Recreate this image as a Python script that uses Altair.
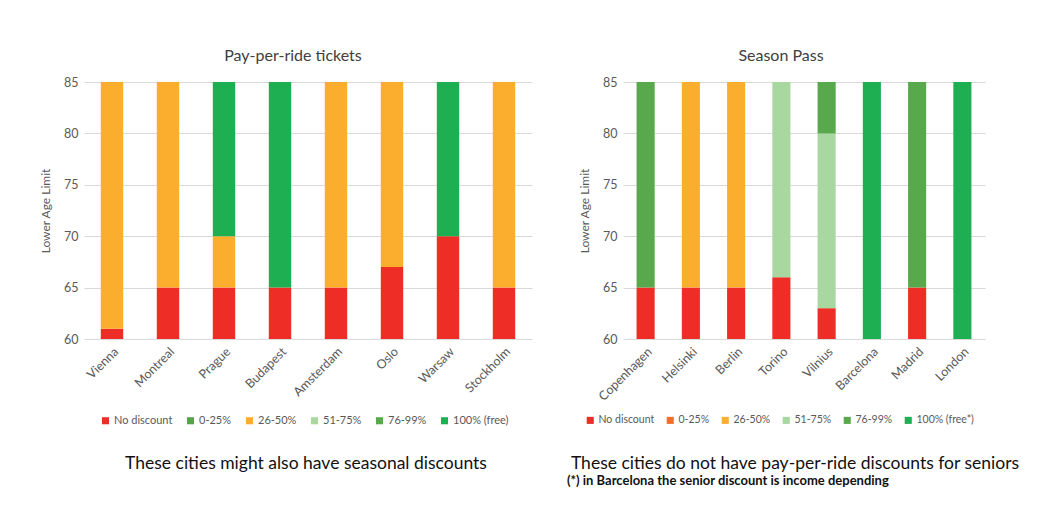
import altair as alt
import pandas as pd

FONT = "Lato"

categories_left = ["No discount", "0-25%", "26-50%", "51-75%", "76-99%", "100% (free)"]
categories_right = ["No discount", "0-25%", "26-50%", "51-75%", "76-99%", "100% (free*)"]
colors_left = ["#ED2D26", "#54A548", "#FBAD2E", "#A9D7A0", "#58A84C", "#1EAF53"]
colors_right = ["#ED2D26", "#F26E2B", "#FBAD2E", "#A9D7A0", "#58A84C", "#1EAF53"]

# Pay-per-ride tickets
left_cities = ["Vienna", "Montreal", "Prague", "Budapest", "Amsterdam", "Oslo", "Warsaw", "Stockholm"]
left_seg_city = ["Vienna", "Vienna", "Montreal", "Montreal", "Prague", "Prague", "Prague",
                 "Budapest", "Budapest", "Amsterdam", "Amsterdam", "Oslo", "Oslo",
                 "Warsaw", "Warsaw", "Stockholm", "Stockholm"]
left_seg_cat = ["No discount", "26-50%", "No discount", "26-50%", "No discount", "26-50%", "100% (free)",
                "No discount", "100% (free)", "No discount", "26-50%", "No discount", "26-50%",
                "No discount", "100% (free)", "No discount", "26-50%"]
left_seg_from = [60, 61, 60, 65, 60, 65, 70, 60, 65, 60, 65, 60, 67, 60, 70, 60, 65]
left_seg_to = [61, 85, 65, 85, 65, 70, 85, 65, 85, 65, 85, 67, 85, 70, 85, 65, 85]

# Season Pass
right_cities = ["Copenhagen", "Helsinki", "Berlin", "Torino", "Vilnius", "Barcelona", "Madrid", "London"]
right_seg_city = ["Copenhagen", "Copenhagen", "Helsinki", "Helsinki", "Berlin", "Berlin",
                  "Torino", "Torino", "Vilnius", "Vilnius", "Vilnius", "Barcelona",
                  "Madrid", "Madrid", "London"]
right_seg_cat = ["No discount", "76-99%", "No discount", "26-50%", "No discount", "26-50%",
                 "No discount", "51-75%", "No discount", "51-75%", "76-99%", "100% (free*)",
                 "No discount", "76-99%", "100% (free*)"]
right_seg_from = [60, 65, 60, 65, 60, 65, 60, 66, 60, 63, 80, 60, 60, 65, 60]
right_seg_to = [65, 85, 65, 85, 65, 85, 66, 85, 63, 80, 85, 85, 65, 85, 85]

y_ticks = [60, 65, 70, 75, 80, 85]

left_title = "Pay-per-ride tickets"
right_title = "Season Pass"
left_note = "These cities might also have seasonal discounts"
right_note = "These cities do not have pay-per-ride discounts for seniors"
right_foot = "(*) in Barcelona the senior discount is income depending"

LABEL = "#595959"


def panel(cities, seg_city, seg_cat, seg_from, seg_to, cats, cols, title, dx,
          width, legend_x, legend_font, legend_pad, note, note_x, foot=None, foot_x=0):
    df = pd.DataFrame({"city": seg_city, "cat": seg_cat, "from": seg_from, "to": seg_to})
    bars = alt.Chart(df).mark_bar().encode(
        x=alt.X("city:N", sort=cities,
                scale=alt.Scale(paddingInner=0.6, paddingOuter=0.3),
                axis=alt.Axis(title=None, labelAngle=-45, labelFontSize=12.5, labelColor=LABEL,
                              labelFont=FONT, ticks=False, domain=False, grid=False,
                              labelPadding=6)),
        y=alt.Y("from:Q", scale=alt.Scale(domain=[60, 85], nice=False, zero=False),
                axis=alt.Axis(values=y_ticks, title="Lower Age Limit", titleFontSize=12,
                              titleFont=FONT, titleFontWeight="normal", titleColor=LABEL,
                              labelFontSize=12.5, labelFont=FONT, labelColor=LABEL,
                              ticks=False, domain=False, gridColor="#D9D9D9",
                              labelPadding=6, titlePadding=11)),
        y2="to:Q",
        color=alt.Color("cat:N", scale=alt.Scale(domain=cats, range=cols),
                        legend=alt.Legend(orient="none", legendX=legend_x, legendY=333,
                                          direction="horizontal", columns=6, title=None,
                                          symbolType="square", symbolSize=50,
                                          symbolStrokeWidth=0, labelFont=FONT,
                                          labelFontSize=legend_font, labelColor=LABEL,
                                          columnPadding=legend_pad, labelOffset=3)),
    )
    notes = pd.DataFrame({"t": [note]})
    note_layer = alt.Chart(notes).mark_text(
        font=FONT, fontSize=17.5, color="#111111", align="center", baseline="middle"
    ).encode(text="t:N", x=alt.value(note_x), y=alt.value(382))
    layers = [bars, note_layer]
    if foot is not None:
        foots = pd.DataFrame({"t": [foot]})
        layers.append(alt.Chart(foots).mark_text(
            font=FONT, fontSize=13, fontWeight="bold", color="#111111",
            align="left", baseline="middle"
        ).encode(text="t:N", x=alt.value(foot_x), y=alt.value(399)))
    return alt.layer(*layers).properties(
        width=width, height=257,
        title=alt.TitleParams(title, font=FONT, fontSize=16, fontWeight="normal",
                              color="#404040", dx=dx, offset=12, anchor="middle"),
    )


left = panel(left_cities, left_seg_city, left_seg_cat, left_seg_from, left_seg_to,
             categories_left, colors_left, left_title, -15, 448, 16, 11, 12, left_note, 222)
right = panel(right_cities, right_seg_city, right_seg_cat, right_seg_from, right_seg_to,
              categories_right, colors_right, right_title, -23, 362, -38, 10.5, 10,
              right_note, 172, right_foot, -56)

chart = alt.hconcat(left, right, spacing=35).resolve_scale(color="independent").properties(
    padding={"left": 39, "top": 48, "right": 5, "bottom": 5},
    background="white",
).configure_view(stroke=None)

chart.save("out.html", embed_options={"renderer": "svg", "actions": False})
